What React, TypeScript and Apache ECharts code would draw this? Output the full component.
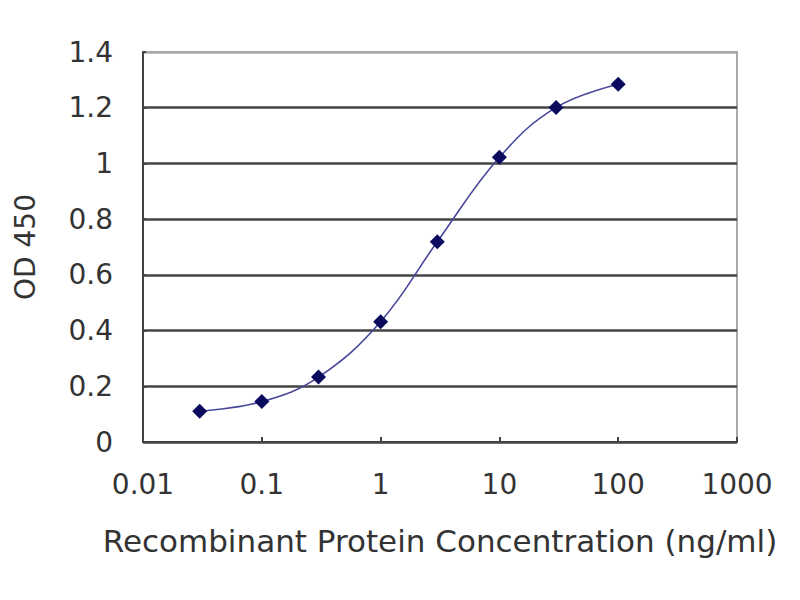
import { useRef, useEffect } from "react";
import * as echarts from "echarts";

const CONCENTRATIONS = [0.03, 0.1, 0.3, 1, 3, 10, 30, 100];
const OD_VALUES = [0.11, 0.145, 0.233, 0.432, 0.719, 1.022, 1.201, 1.284];

const FONT = "DejaVu Sans";
const TEXT_COLOR = "#333";

export default function App() {
  const chartRef = useRef<HTMLDivElement>(null);

  useEffect(() => {
    if (!chartRef.current) return;
    const chart = echarts.init(chartRef.current, undefined, { renderer: "svg" });
    const option: echarts.EChartsOption = {
      animation: false,
      backgroundColor: "#fff",
      grid: {
        left: 143, right: 63, top: 52, bottom: 158,
        show: true, borderColor: "#a8a8a8", borderWidth: 2, backgroundColor: "transparent",
      },
      xAxis: {
        type: "log", logBase: 10, min: 0.01, max: 1000,
        name: "Recombinant Protein Concentration (ng/ml)",
        nameLocation: "middle", nameGap: 83,
        nameTextStyle: { fontFamily: FONT, fontSize: 31, color: TEXT_COLOR },
        axisLine: { lineStyle: { color: "#444", width: 2 } },
        axisTick: { inside: true, length: 5, lineStyle: { color: "#444", width: 2 } },
        axisLabel: {
          fontFamily: FONT, fontSize: 28, color: TEXT_COLOR, margin: 28,
          formatter: (v: number) => String(v),
        },
        splitLine: { show: false },
      },
      yAxis: {
        type: "value", min: 0, max: 1.4, interval: 0.2,
        name: "OD 450", nameLocation: "middle", nameGap: 104,
        nameTextStyle: { fontFamily: FONT, fontSize: 28, color: TEXT_COLOR },
        axisLine: { show: true, lineStyle: { color: "#444", width: 2 } },
        axisTick: { show: true, inside: true, length: 3, lineStyle: { color: "#444", width: 2 } },
        axisLabel: {
          fontFamily: FONT, fontSize: 28, color: TEXT_COLOR, margin: 30,
          formatter: (v: number) => String(Math.round(v * 10) / 10),
        },
        splitLine: {
          lineStyle: {
            color: ["#444", "#444", "#444", "#444", "#444", "#444", "#444", "#a8a8a8"],
            width: 2.5,
          },
        },
      },
      series: [
        {
          type: "line",
          smooth: 0.4,
          data: CONCENTRATIONS.map((c, i) => [c, OD_VALUES[i]]),
          symbol: "diamond",
          symbolSize: 15,
          lineStyle: { color: "#48489a", width: 1.6 },
          itemStyle: { color: "#0a0a5e" },
        },
      ],
    };
    chart.setOption(option);
    return () => chart.dispose();
  }, []);

  return (
    <div
      ref={chartRef}
      style={{ position: "fixed", left: 0, top: 0, width: 800, height: 600 }}
    />
  );
}
